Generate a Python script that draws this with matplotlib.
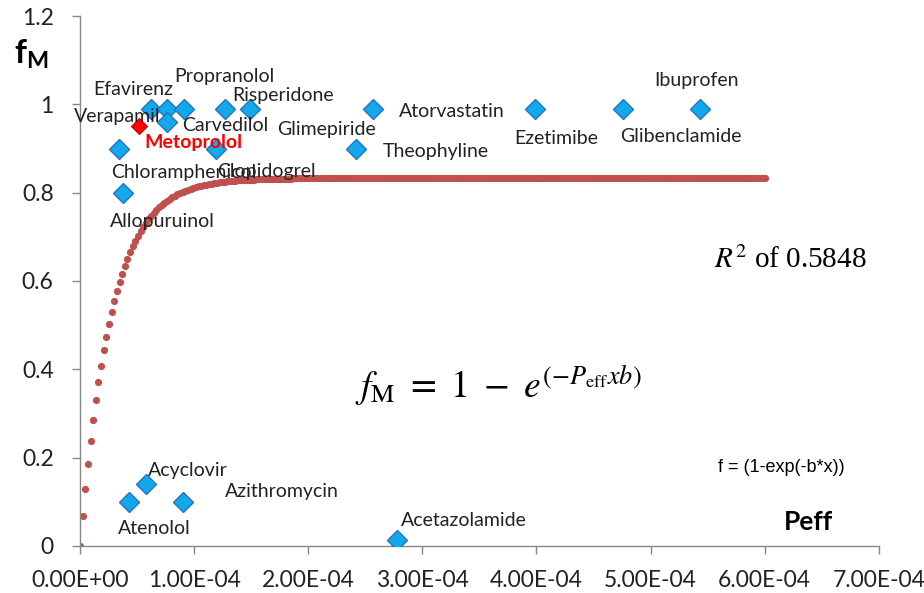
import matplotlib
matplotlib.use('Agg')
import matplotlib.pyplot as plt
import numpy as np

# drug permeability (Peff, cm/s) and fraction metabolised (fM)
drugs = ['Verapamil', 'Efavirenz', 'Glimepiride', 'Propranolol', 'Risperidone',
         'Atorvastatin', 'Ezetimibe', 'Glibenclamide', 'Ibuprofen', 'Carvedilol',
         'Chloramphenicol', 'Clopidogrel', 'Theophyline', 'Allopuruinol',
         'Atenolol', 'Acyclovir', 'Azithromycin', 'Acetazolamide']
peff = [0.62e-4, 0.76e-4, 0.91e-4, 1.27e-4, 1.49e-4,
        2.57e-4, 3.99e-4, 4.76e-4, 5.43e-4, 0.76e-4,
        0.34e-4, 1.19e-4, 2.42e-4, 0.38e-4,
        0.43e-4, 0.58e-4, 0.90e-4, 2.78e-4]
fm = [0.99, 0.99, 0.99, 0.99, 0.99,
      0.99, 0.99, 0.99, 0.99, 0.96,
      0.90, 0.90, 0.90, 0.80,
      0.10, 0.14, 0.10, 0.013]

# highlighted drug
hl_name = 'Metoprolol'
hl_peff = 0.52e-4
hl_fm = 0.95

# fitted model f = fmax*(1-exp(-b*x)), plotted on a grid up to 6E-04
fit_b = 36500
fit_fmax = 0.833
fit_xmax = 6e-4
fit_npts = 261

x_ticks = [0, 1e-4, 2e-4, 3e-4, 4e-4, 5e-4, 6e-4, 7e-4]
y_ticks = [0, 0.2, 0.4, 0.6, 0.8, 1.0, 1.2]
y_ticklabels = ['0', '0.2', '0.4', '0.6', '0.8', '1', '1.2']

# label offsets (pixels) from each point
label_offsets = {
    'Verapamil': (-34, -8), 'Efavirenz': (-34, 19), 'Glimepiride': (143, -21),
    'Propranolol': (-1, 32), 'Risperidone': (33, 13), 'Atorvastatin': (79, -3),
    'Ezetimibe': (21, -30), 'Glibenclamide': (58, -28), 'Ibuprofen': (-3, 28),
    'Carvedilol': (59, -3), 'Chloramphenicol': (65, -24), 'Clopidogrel': (51, -23),
    'Theophyline': (80, -3), 'Allopuruinol': (39, -29), 'Atenolol': (25, -27),
    'Acyclovir': (42, 14), 'Azithromycin': (99, 10), 'Acetazolamide': (67, 20),
}

plt.rcParams['font.family'] = ['Lato', 'DejaVu Sans']
plt.rcParams['mathtext.fontset'] = 'custom'
plt.rcParams['mathtext.bf'] = 'Lato:bold'
plt.rcParams['mathtext.rm'] = 'Lato'

fig = plt.figure(figsize=(9.24, 5.93), dpi=100)
ax = fig.add_axes([0.0866, 0.0793, 0.8644, 0.8937])

xs = np.linspace(0, fit_xmax, fit_npts)
ax.plot(xs, fit_fmax * (1 - np.exp(-fit_b * xs)), 'o', color='#C0504D',
        markersize=5.2, markeredgewidth=0, zorder=2)

ax.plot(peff, fm, 'D', markersize=9.8, markerfacecolor='#12A8EC',
        markeredgecolor='#2A72C0', markeredgewidth=1.0, linestyle='none', zorder=3)
ax.plot([hl_peff], [hl_fm], 'D', markersize=7.8, color='#FF0000',
        markeredgecolor='#D00000', markeredgewidth=0.8, zorder=3)

for name, x, y in zip(drugs, peff, fm):
    ax.annotate(name, (x, y), xytext=label_offsets[name], textcoords='offset pixels',
                ha='center', va='center', fontsize=14, color='#222222', zorder=4)
ax.annotate(hl_name, (hl_peff, hl_fm), xytext=(54, -16), textcoords='offset pixels',
            ha='center', va='center', fontsize=14, color='#FF0000',
            fontweight='bold', zorder=4)

ax.set_xlim(0, 7e-4)
ax.set_ylim(0, 1.2)
ax.set_xticks(x_ticks)
ax.set_xticklabels(['{:.2E}'.format(v) for v in x_ticks])
ax.set_yticks(y_ticks)
ax.set_yticklabels(y_ticklabels)
ax.tick_params(axis='both', labelsize=16.5, color='#868686', length=6, width=1,
               labelcolor='#222222')
ax.tick_params(axis='x', pad=11)
ax.tick_params(axis='y', pad=13)

for side in ['top', 'right']:
    ax.spines[side].set_visible(False)
for side in ['left', 'bottom']:
    ax.spines[side].set_color('#868686')
    ax.spines[side].set_linewidth(1)

fig.text(0.034, 0.908, r'$\mathbf{f_M}$', fontsize=24, ha='center', va='center')
fig.text(0.875, 0.12, 'Peff', fontsize=19, fontweight='bold', ha='center', va='center')

ax.text(0.539, 0.35, r'$f_{\mathrm{M}}\ =\ 1\ -\ e^{(-P_{\mathrm{eff}}xb)}$',
        transform=fig.transFigure, fontsize=27, ha='center', va='center',
        math_fontfamily='stix')
ax.text(0.855, 0.562, r'$R^2$ of 0.5848', transform=fig.transFigure,
        fontsize=21, ha='center', va='center', family='Liberation Serif',
        math_fontfamily='stix')
ax.text(0.846, 0.212, 'f = (1-exp(-b*x))', transform=fig.transFigure,
        fontsize=13, ha='center', va='center', family='Liberation Sans')

fig.savefig('out.png', dpi=100)
